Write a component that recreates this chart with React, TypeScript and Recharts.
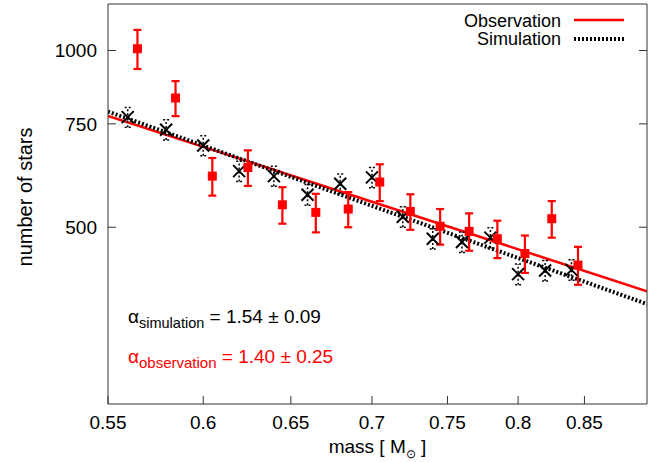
import React from 'react';
import { ComposedChart, Scatter, Line, XAxis, YAxis, ErrorBar } from 'recharts';

// observation (red squares with error bars)
const obsMass = [0.565, 0.585, 0.605, 0.625, 0.645, 0.665, 0.685, 0.705, 0.725, 0.745, 0.765, 0.785, 0.805, 0.825, 0.845];
const obsStars = [1007, 830, 611, 632, 546, 530, 537, 597, 532, 502, 492, 478, 451, 517, 431];
const obsErr = [77, 57, 45, 44, 39, 40, 37, 43, 37, 35, 36, 35, 33, 37, 32];

// simulation (black crosses, dotted error bars)
const simMass = [0.56, 0.58, 0.6, 0.62, 0.64, 0.66, 0.68, 0.7, 0.72, 0.74, 0.76, 0.78, 0.8, 0.82, 0.84];
const simStars = [770, 733, 689, 623, 611, 568, 593, 608, 521, 478, 472, 480, 416, 422, 423];
const simErr = [30, 29, 27, 25, 24, 23, 23, 24, 21, 19, 19, 19, 17, 17, 17];

// power-law fits, end points
const fitMass = [0.55, 0.9];
const obsFitStars = [774, 389];
const simFitStars = [787, 370];

const xTicks = [0.55, 0.6, 0.65, 0.7, 0.75, 0.8, 0.85];
const yTicks = [500, 750, 1000];

const FONT = '"Liberation Sans", Arial, Helvetica, sans-serif';
const RED = '#ff0000';
const FRAME = '#333333';

const obsData = obsMass.map((m, i) => ({ m, n: obsStars[i], e: obsErr[i] }));
const simData = simMass.map((m, i) => ({ m, n: simStars[i], e: simErr[i] }));
const obsFit = fitMass.map((m, i) => ({ m, n: obsFitStars[i] }));
const simFit = fitMass.map((m, i) => ({ m, n: simFitStars[i] }));

const RedSquare = (props: any) => {
  const { cx, cy } = props;
  return <rect x={cx - 4.5} y={cy - 4.5} width={9} height={9} fill={RED} />;
};

const Cross = (props: any) => {
  const { cx, cy } = props;
  const s = 6;
  return (
    <g stroke="#000" strokeWidth={2}>
      <line x1={cx - s} y1={cy - s} x2={cx + s} y2={cy + s} />
      <line x1={cx - s} y1={cy + s} x2={cx + s} y2={cy - s} />
    </g>
  );
};

const XLabel = (props: any) => {
  const { viewBox } = props;
  const cx = viewBox.x + viewBox.width / 2;
  return (
    <text x={cx} y={viewBox.y + 49} textAnchor="middle" fontSize={19} fontFamily={FONT} fill="#000">
      mass [ M<tspan fontSize={12} dy={5}>⊙</tspan>
      <tspan dy={-5}> ]</tspan>
    </text>
  );
};

const YLabel = (props: any) => {
  const { viewBox } = props;
  const x = viewBox.x + 32;
  const y = 197;
  return (
    <text x={x} y={y} transform={`rotate(-90, ${x}, ${y})`} textAnchor="middle" fontSize={20} fontFamily={FONT} fill="#000">
      number of stars
    </text>
  );
};

const tickStyle = { fill: '#000', fontSize: 19, fontFamily: FONT };

const App = () => {
  return (
    <div style={{ position: 'absolute', left: 0, top: 0, width: 657, height: 462, background: '#fff' }}>
      <ComposedChart width={657} height={462} margin={{ top: 3, right: 9, bottom: 0, left: 0 }}>
        <XAxis
          dataKey="m"
          type="number"
          scale="log"
          domain={[0.55, 0.9]}
          allowDataOverflow
          ticks={xTicks}
          height={58}
          tick={tickStyle}
          tickSize={-8}
          tickMargin={20}
          axisLine={{ stroke: FRAME }}
          tickLine={{ stroke: FRAME }}
          label={<XLabel />}
        />
        <XAxis
          xAxisId="top"
          orientation="top"
          type="number"
          scale="log"
          domain={[0.55, 0.9]}
          allowDataOverflow
          ticks={xTicks}
          height={1}
          tickSize={-8}
          tickFormatter={() => ''}
          axisLine={{ stroke: FRAME }}
          tickLine={{ stroke: FRAME }}
        />
        <YAxis
          dataKey="n"
          type="number"
          scale="log"
          domain={[250, 1200]}
          allowDataOverflow
          ticks={yTicks}
          width={108}
          tick={tickStyle}
          tickSize={-8}
          tickMargin={19}
          axisLine={{ stroke: FRAME }}
          tickLine={{ stroke: FRAME }}
          label={<YLabel />}
        />
        <YAxis
          yAxisId="right"
          orientation="right"
          type="number"
          scale="log"
          domain={[250, 1200]}
          allowDataOverflow
          ticks={yTicks}
          width={1}
          tickSize={-8}
          tickFormatter={() => ''}
          axisLine={{ stroke: FRAME }}
          tickLine={{ stroke: FRAME }}
        />
        <Line data={obsFit} dataKey="n" type="linear" stroke={RED} strokeWidth={2.5} dot={false} isAnimationActive={false} />
        <Line data={simFit} dataKey="n" type="linear" stroke="#000" strokeWidth={4} strokeDasharray="2 2" dot={false} isAnimationActive={false} />
        <Scatter data={simData} dataKey="n" shape={<Cross />} isAnimationActive={false}>
          <ErrorBar dataKey="e" direction="y" width={3} stroke="#000" strokeWidth={1.5} strokeDasharray="2 2" />
        </Scatter>
        <Scatter data={obsData} dataKey="n" shape={<RedSquare />} isAnimationActive={false}>
          <ErrorBar dataKey="e" direction="y" width={4} stroke={RED} strokeWidth={2.2} />
        </Scatter>
      </ComposedChart>
      <svg width={657} height={462} style={{ position: 'absolute', left: 0, top: 0, pointerEvents: 'none' }} fontFamily={FONT}>
        <text x={561} y={26.5} textAnchor="end" fontSize={18} fill="#000">Observation</text>
        <line x1={574} x2={624} y1={20} y2={20} stroke={RED} strokeWidth={2.5} />
        <text x={561} y={45} textAnchor="end" fontSize={18} fill="#000">Simulation</text>
        <line x1={574} x2={624} y1={39} y2={39} stroke="#000" strokeWidth={4} strokeDasharray="2 2" />
        <text x={128} y={323} fontSize={19} fill="#000">
          α<tspan fontSize={14.5} dy={5}>simulation</tspan>
          <tspan dy={-5}> = 1.54 ± 0.09</tspan>
        </text>
        <text x={128} y={363} fontSize={19} fill={RED}>
          α<tspan fontSize={15} dy={5}>observation</tspan>
          <tspan dy={-5}> = 1.40 ± 0.25</tspan>
        </text>
      </svg>
    </div>
  );
};

export default App;
